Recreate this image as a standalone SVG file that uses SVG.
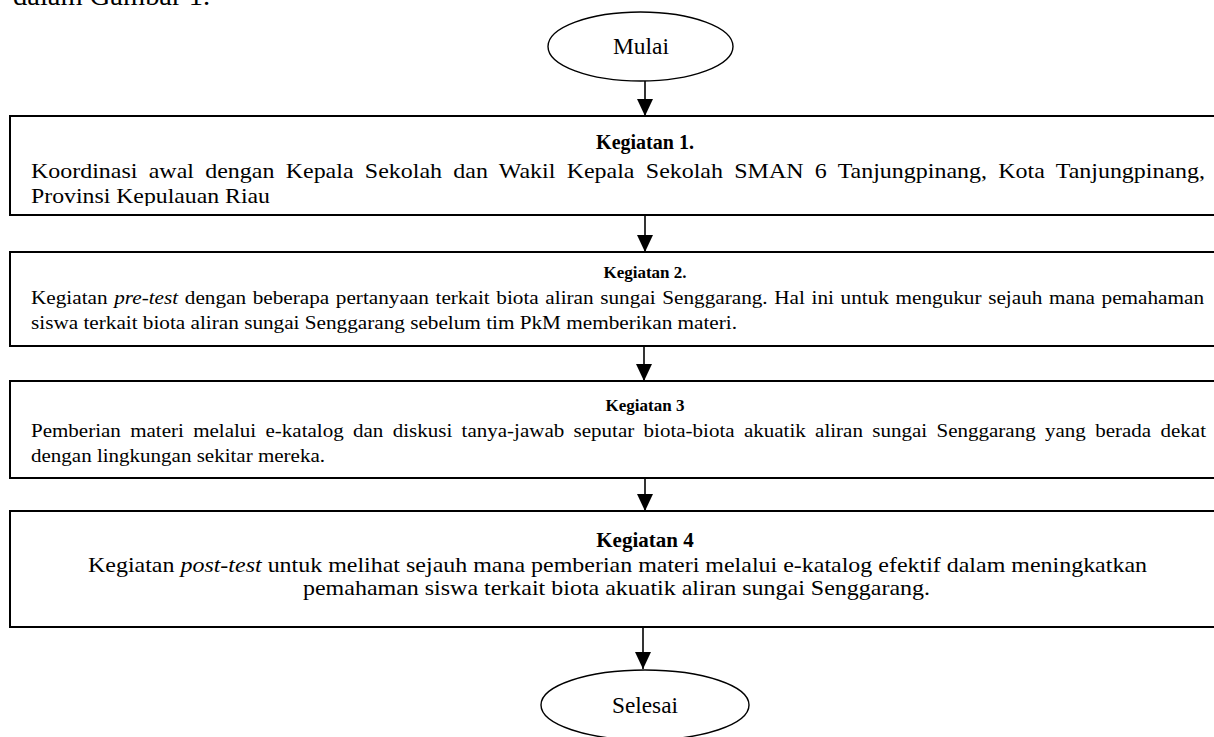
<svg xmlns="http://www.w3.org/2000/svg" width="1214" height="737" viewBox="0 0 1214 737">
<style>
text{font-family:"Liberation Serif","Times New Roman",serif;fill:#000}
.box{fill:#fff;stroke:#000;stroke-width:2}
.term{fill:#fff;stroke:#000;stroke-width:1.4}
.ttl{font-weight:bold;text-anchor:middle}
.mid{text-anchor:middle}
.conn{stroke:#000;stroke-width:1.6;fill:none;marker-end:url(#ah)}
</style>
<defs>
<marker id="ah" markerUnits="userSpaceOnUse" markerWidth="18" markerHeight="18" refX="17" refY="8" orient="auto">
<path d="M0,0 L17,8 L0,16 z" fill="#000"/>
</marker>
<clipPath id="c1"><rect x="10" y="116" width="1210" height="90"/></clipPath>
</defs>
<rect width="1214" height="737" fill="#fff"/>
<text x="13" y="5" font-size="28" textLength="197" lengthAdjust="spacingAndGlyphs">dalam Gambar 1.</text>

<g id="connectors">
<line class="conn" x1="645" y1="81" x2="645" y2="116"/>
<line class="conn" x1="645" y1="216" x2="645" y2="252"/>
<line class="conn" x1="644" y1="347" x2="644" y2="381"/>
<line class="conn" x1="645" y1="479" x2="645" y2="511"/>
<line class="conn" x1="643" y1="622" x2="643" y2="669"/>
</g>

<g id="start">
<ellipse class="term" cx="640.5" cy="46.5" rx="92.5" ry="34.5"/>
<text class="mid" x="641" y="54" font-size="23" textLength="56" lengthAdjust="spacingAndGlyphs">Mulai</text>
</g>

<g id="kegiatan1">
<rect class="box" x="10" y="116" width="1210" height="99"/>
<text class="ttl" x="645" y="149" font-size="20">Kegiatan 1.</text>
<g clip-path="url(#c1)" font-size="22">
<text x="31" y="178" word-spacing="4.9" textLength="1174" lengthAdjust="spacingAndGlyphs">Koordinasi awal dengan Kepala Sekolah dan Wakil Kepala Sekolah SMAN 6 Tanjungpinang, Kota Tanjungpinang,</text>
<text x="31" y="203" textLength="239" lengthAdjust="spacingAndGlyphs">Provinsi Kepulauan Riau</text>
</g>
</g>

<g id="kegiatan2">
<rect class="box" x="10" y="252" width="1210" height="94"/>
<text class="ttl" x="645" y="278" font-size="17">Kegiatan 2.</text>
<text x="31" y="304" font-size="19" word-spacing="1.2" textLength="1173" lengthAdjust="spacingAndGlyphs">Kegiatan <tspan font-style="italic">pre-test</tspan> dengan beberapa pertanyaan terkait biota aliran sungai Senggarang. Hal ini untuk mengukur sejauh mana pemahaman</text>
<text x="31" y="329" font-size="19" textLength="706" lengthAdjust="spacingAndGlyphs">siswa terkait biota aliran sungai Senggarang sebelum tim PkM memberikan materi.</text>
</g>

<g id="kegiatan3">
<rect class="box" x="10" y="381" width="1210" height="97"/>
<text class="ttl" x="645" y="411" font-size="17">Kegiatan 3</text>
<text x="31" y="437" font-size="19" word-spacing="3.7" textLength="1175" lengthAdjust="spacingAndGlyphs">Pemberian materi melalui e-katalog dan diskusi tanya-jawab seputar biota-biota akuatik aliran sungai Senggarang yang berada dekat</text>
<text x="31" y="462" font-size="19" textLength="294" lengthAdjust="spacingAndGlyphs">dengan lingkungan sekitar mereka.</text>
</g>

<g id="kegiatan4">
<rect class="box" x="10" y="511" width="1210" height="116"/>
<text class="ttl" x="645" y="547" font-size="21">Kegiatan 4</text>
<text x="88" y="572" font-size="22" textLength="1059" lengthAdjust="spacingAndGlyphs">Kegiatan <tspan font-style="italic">post-test</tspan> untuk melihat sejauh mana pemberian materi melalui e-katalog efektif dalam meningkatkan</text>
<text x="303" y="595" font-size="22" textLength="627" lengthAdjust="spacingAndGlyphs">pemahaman siswa terkait biota akuatik aliran sungai Senggarang.</text>
</g>

<g id="end">
<ellipse class="term" cx="645" cy="705" rx="104" ry="35"/>
<text class="mid" x="645" y="713" font-size="23" textLength="66" lengthAdjust="spacingAndGlyphs">Selesai</text>
</g>
</svg>
